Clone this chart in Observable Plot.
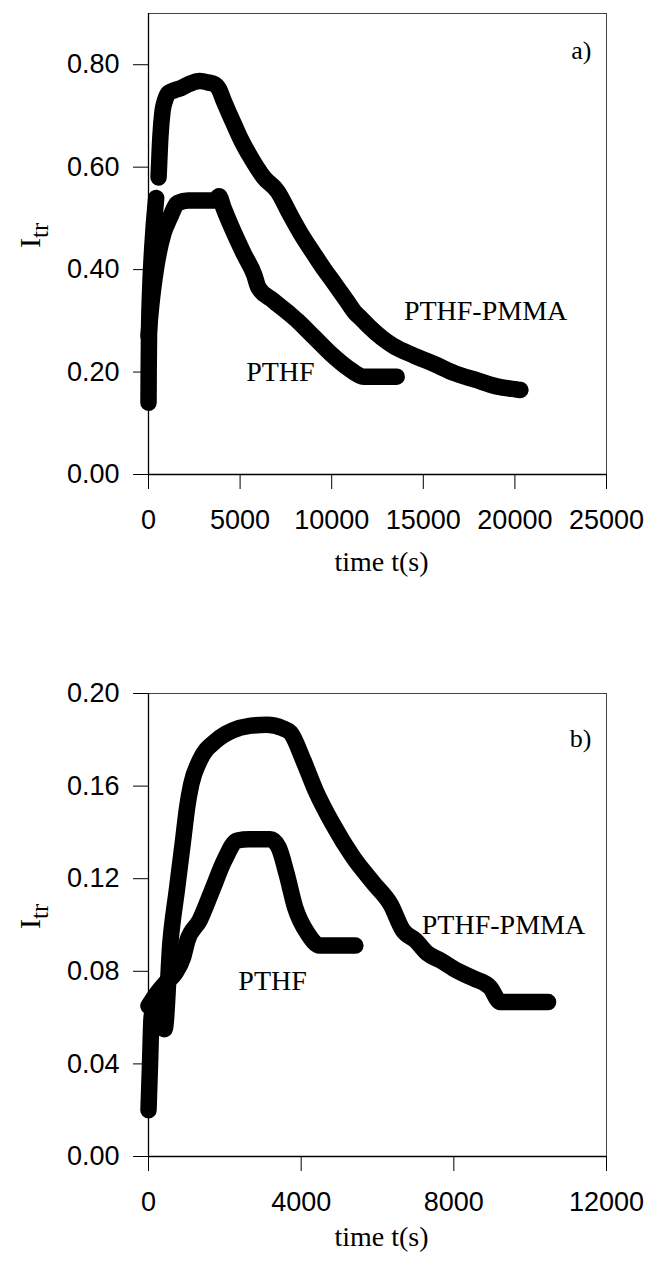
<!DOCTYPE html>
<html>
<head>
<meta charset="utf-8">
<script src="https://cdn.jsdelivr.net/npm/d3@7"></script>
<script src="https://cdn.jsdelivr.net/npm/@observablehq/plot@0.6"></script>
<style>
  html, body { margin: 0; padding: 0; background: #fff; }
  #chart { width: 647px; }
  #chart svg { display: block; background: #fff; }
</style>
</head>
<body>
<div id="chart"></div>
<script>
// ---------- data: panel a ----------
const aTicksX = [0, 5000, 10000, 15000, 20000, 25000];
const aTicksY = [0, 0.2, 0.4, 0.6, 0.8];
const aPmmaT = [0, 10, 30, 80, 200, 420, 480, 550, 650, 770, 900, 1100, 1400, 1800, 2200, 2800, 3300, 3600, 3850, 4100, 4650, 5100, 5580, 6290, 7060, 7690, 8400, 9040, 9600, 10170, 10800, 11300, 11600, 12000, 12800, 13330, 14500, 15580, 16700, 17830, 19000, 20090, 20300];
const aPmmaV = [0.14, 0.20, 0.28, 0.35, 0.44, 0.54, NaN, 0.58, 0.66, 0.71, 0.73, 0.745, 0.75, 0.755, 0.762, 0.768, 0.765, 0.762, 0.752, 0.73, 0.685, 0.65, 0.619, 0.58, 0.552, 0.51, 0.465, 0.43, 0.40, 0.372, 0.34, 0.315, 0.305, 0.29, 0.265, 0.252, 0.232, 0.216, 0.198, 0.185, 0.172, 0.166, 0.165];
const aPthfT = [0, 150, 400, 810, 1150, 1600, 2170, 3620, 3850, 4100, 4530, 5200, 5770, 6000, 6790, 7690, 8140, 9040, 9945, 10850, 11750, 13550];
const aPthfV = [0.27, 0.33, 0.40, 0.47, 0.50, 0.53, 0.535, 0.535, 0.543, 0.52, 0.483, 0.431, 0.39, 0.365, 0.34, 0.314, 0.300, 0.268, 0.236, 0.209, 0.191, 0.191];

// ---------- data: panel b ----------
const bTicksX = [0, 4000, 8000, 12000];
const bTicksY = [0, 0.04, 0.08, 0.12, 0.16, 0.20];
const bPmmaT = [0, 40, 80, 150, 300, 420, 577, 742, 906, 1014, 1123, 1340, 1776, 2200, 2645, 3100, 3515, 3725, 4060, 4380, 4820, 5360, 5900, 6340, 6670, 7000, 7310, 7650, 8080, 8520, 8950, 9220, 10470];
const bPmmaV = [0.02, 0.04, 0.06, 0.065, 0.058, 0.055, 0.093, 0.115, 0.1365, 0.151, 0.161, 0.171, 0.1797, 0.184, 0.186, 0.1865, 0.185, 0.183, 0.171, 0.158, 0.1438, 0.1293, 0.118, 0.109, 0.0976, 0.0933, 0.0877, 0.0847, 0.0803, 0.0769, 0.0731, 0.0667, 0.0667];
const bPthfT = [0, 200, 450, 690, 906, 1015, 1340, 1666, 1990, 2320, 2645, 3190, 3407, 3620, 3840, 4170, 4490, 5420];
const bPthfV = [0.065, 0.070, 0.075, 0.079, 0.086, 0.093, 0.102, 0.115, 0.128, 0.1365, 0.137, 0.137, 0.1336, 0.122, 0.1077, 0.0963, 0.0911, 0.0911];

// ---------- labels ----------
const seriesNames = ["PTHF-PMMA", "PTHF"];
const aLabelT = [18400, 7200];
const aLabelV = [0.32, 0.20];
const bLabelT = [9300, 3250];
const bLabelV = [0.1, 0.076];
const panelTags = ["a)", "b)"];
const xTitle = "time t(s)";
const yTitleMain = "I";
const yTitleSub = "tr";

const toRows = (ts, vs) => ts.map((t, i) => ({t, v: vs[i]}));

const serif = "'Liberation Serif', 'Times New Roman', serif";
const sans = "'Liberation Sans', Arial, sans-serif";

function panel({height, marginTop, marginBottom, xDomain, yDomain, xTicks, yTicks, pmma, pthf, labT, labV, tag, tagDy, titleDy}) {
  const labels = seriesNames.map((s, i) => ({s, t: labT[i], v: labV[i]}));
  const lineOpts = {x: "t", y: "v", stroke: "#000", strokeWidth: 16.5, strokeLinecap: "round", strokeLinejoin: "round", curve: "monotone-x"};
  const svg = Plot.plot({
    width: 647,
    height,
    marginTop,
    marginBottom,
    marginLeft: 148,
    marginRight: 41,
    style: {background: "#fff", overflow: "visible"},
    x: {domain: xDomain},
    y: {domain: yDomain},
    marks: [
      Plot.frame({stroke: "#444", strokeWidth: 1}),
      Plot.ruleX([0], {stroke: "#000", strokeWidth: 1.3}),
      Plot.ruleY([0], {stroke: "#000", strokeWidth: 1.5}),
      Plot.axisX({ticks: xTicks, tickSize: 15, tickPadding: 20, tickFormat: d3.format("d"), fontSize: 27, fontFamily: sans, label: null, stroke: "#000"}),
      Plot.axisY({ticks: yTicks, tickSize: 15, tickPadding: 14, tickFormat: d3.format(".2f"), fontSize: 27, fontFamily: sans, label: null, stroke: "#000"}),
      Plot.line(toRows(pthf.t, pthf.v), lineOpts),
      Plot.line(toRows(pmma.t, pmma.v), lineOpts),
      Plot.text(labels, {x: "t", y: "v", text: "s", fontSize: 28, fontFamily: serif, fill: "#000"}),
      Plot.text([tag], {frameAnchor: "top-right", dx: -15, dy: tagDy, text: d => d, fontSize: 26, fontFamily: serif, fill: "#000", textAnchor: "end"}),
      Plot.text([xTitle], {frameAnchor: "bottom", dx: 4, dy: titleDy, text: d => d, fontSize: 28, fontFamily: serif, fill: "#000"}),
      Plot.text([yTitleMain + yTitleSub], {frameAnchor: "left", dx: -118, dy: 4, rotate: -90, text: d => d, fontSize: 30, fontFamily: serif, fill: "#000"})
    ]
  });
  // subscript for the y title
  d3.select(svg).selectAll("text").filter(function() { return this.textContent === yTitleMain + yTitleSub; })
    .each(function() {
      const el = d3.select(this);
      el.text(null);
      el.append("tspan").text(yTitleMain);
      el.append("tspan").attr("dy", "0.3em").attr("font-size", "25px").text(yTitleSub);
    });
  return svg;
}

const chart = document.getElementById("chart");
chart.appendChild(panel({
  height: 630, marginTop: 13, marginBottom: 156,
  xDomain: [0, 25000], yDomain: [0, 0.9],
  xTicks: aTicksX, yTicks: aTicksY,
  pmma: {t: aPmmaT, v: aPmmaV}, pthf: {t: aPthfT, v: aPthfV},
  labT: aLabelT, labV: aLabelV, tag: panelTags[0], tagDy: 27, titleDy: 96
}));
chart.appendChild(panel({
  height: 632, marginTop: 63, marginBottom: 106,
  xDomain: [0, 12000], yDomain: [0, 0.2],
  xTicks: bTicksX, yTicks: bTicksY,
  pmma: {t: bPmmaT, v: bPmmaV}, pthf: {t: bPthfT, v: bPthfV},
  labT: bLabelT, labV: bLabelV, tag: panelTags[1], tagDy: 35, titleDy: 89
}));
</script>
</body>
</html>
